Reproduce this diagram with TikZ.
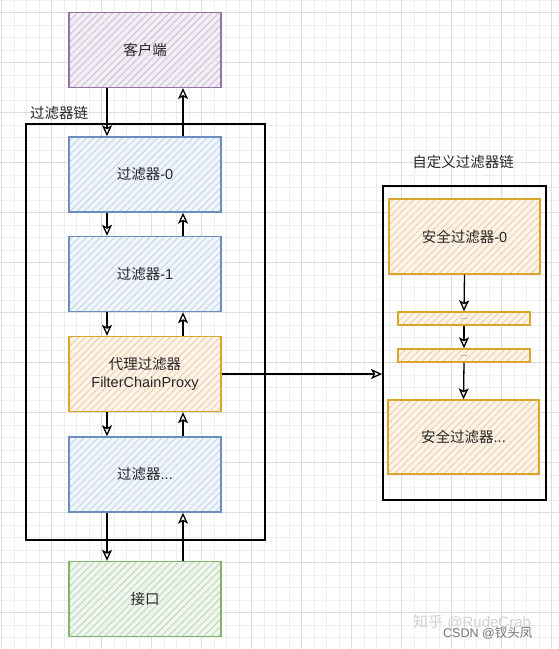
\documentclass[tikz,border=0pt]{standalone}
\usepackage{fontspec}
\setmainfont{Liberation Sans}
\newfontfamily\cjk{Noto Sans CJK SC}
\usetikzlibrary{arrows.meta,patterns.meta}
\definecolor{purS}{HTML}{9673A6}\definecolor{purF}{HTML}{E1D5E7}
\definecolor{bluS}{HTML}{6C8EBF}\definecolor{bluF}{HTML}{DAE8FC}
\definecolor{oraS}{HTML}{D8A62A}\definecolor{oraF}{HTML}{FFE3C4}
\definecolor{grnS}{HTML}{82B366}\definecolor{grnF}{HTML}{D5E8D4}
\definecolor{gridminor}{HTML}{EEEEEE}\definecolor{gridmajor}{HTML}{DCDCDC}
\tikzset{
  x=1pt,y=-1pt,
  txt/.style={font=\fontsize{14.5}{18}\selectfont, text=black!85, align=center},
  hbox/.style 2 args={draw=#1, line width=1.4pt, inner sep=0pt, txt,
    preaction={fill=#2!40!white},
    pattern={Lines[angle=45,distance=5pt,line width=1pt]}, pattern color=#2!92!black},
  bigbox/.style={minimum width=152pt, minimum height=75pt},
  arr/.style={draw=black, line width=1.3pt, -{Stealth[open,inset=2.5pt,length=11pt,width=10pt,line width=1.3pt]}},
  chainbox/.style={draw=black, line width=1.7pt, inner sep=0pt},
}
\begin{document}
\begin{tikzpicture}
\useasboundingbox (0,0) rectangle (559,649);
\fill[white] (0,0) rectangle (559,649);
% grid
\foreach \i in {0,...,44} {
  \pgfmathsetmacro{\xx}{1.7+12.5*\i}
  \draw[gridminor, line width=0.6pt] (\xx,0) -- (\xx,649);
}
\foreach \i in {-1,...,51} {
  \pgfmathsetmacro{\yy}{12.3+12.5*\i}
  \draw[gridminor, line width=0.6pt] (0,\yy) -- (559,\yy);
}
\foreach \i in {0,...,11} {
  \pgfmathsetmacro{\xx}{1.7+50*\i}
  \draw[gridmajor, line width=0.7pt] (\xx,0) -- (\xx,649);
}
\foreach \i in {0,...,12} {
  \pgfmathsetmacro{\yy}{12.3+50*\i}
  \draw[gridmajor, line width=0.7pt] (0,\yy) -- (559,\yy);
}

% left chain
\node[chainbox, minimum width=239pt, minimum height=416pt] (chain) at (145.5,332) {};
\node[txt, anchor=west, inner sep=0pt] (chainlbl) at (30,113) {\cjk 过滤器链};

\node[hbox={purS}{purF}, bigbox] (client) at (145,50) {\cjk 客户端};
\node[hbox={bluS}{bluF}, bigbox] (f0) at (145,174.5) {{\cjk 过滤器}-0};
\node[hbox={bluS}{bluF}, bigbox] (f1) at (145,274) {{\cjk 过滤器}-1};
\node[hbox={oraS}{oraF}, bigbox] (proxy) at (145,374) {{\cjk 代理过滤器}\\FilterChainProxy};
\node[hbox={bluS}{bluF}, bigbox] (fd) at (145,474.5) {{\cjk 过滤器}...};
\node[hbox={grnS}{grnF}, bigbox] (api) at (145,599) {\cjk 接口};

\foreach \a/\b in {client/f0, f0/f1, f1/proxy, proxy/fd, fd/api} {
  \draw[arr] ([xshift=-38pt]\a.south) -- ([xshift=-38pt]\b.north);
  \draw[arr] ([xshift=38pt]\b.north) -- ([xshift=38pt]\a.south);
}

% right chain
\node[chainbox, minimum width=163pt, minimum height=314pt] (custom) at (464.5,343) {};
\node[txt] (customlbl) at (463,162) {\cjk 自定义过滤器链};

\node[hbox={oraS}{oraF}, minimum width=151pt, minimum height=75pt] (s0) at (464.5,236.5) {{\cjk 安全过滤器}-0};
\node[hbox={oraS}{oraF}, minimum width=132pt, minimum height=13pt, font=\fontsize{9}{9}\selectfont, text=black!60] (b1) at (464,318.5) {\raisebox{-2pt}{...}};
\node[hbox={oraS}{oraF}, minimum width=132pt, minimum height=13pt, font=\fontsize{9}{9}\selectfont, text=black!60] (b2) at (464,355.5) {\raisebox{-2pt}{...}};
\node[hbox={oraS}{oraF}, minimum width=151pt, minimum height=74pt] (sd) at (463.5,437) {{\cjk 安全过滤器}...};

\draw[arr] (s0.south) -- (b1.north);
\draw[arr] (b1.south) -- (b2.north);
\draw[arr] (b2.south) -- (sd.north);

\draw[arr] (proxy.east) -- (proxy.east -| custom.west);

% watermarks
\node[font=\fontsize{15}{15}\selectfont, text=black!18, anchor=west, inner sep=0pt] (wm1) at (413,622) {{\cjk 知乎} @RudeCrab};
\node[font=\fontsize{12.5}{13}\selectfont, text=black!55, anchor=west, inner sep=0pt] (wm2) at (443,633) {CSDN @{\cjk 钗头凤}};
\end{tikzpicture}
\end{document}
